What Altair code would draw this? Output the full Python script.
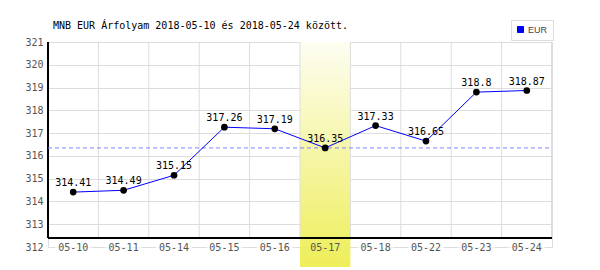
import altair as alt
import pandas as pd

# ---- data ----
dates = ["05-10", "05-11", "05-14", "05-15", "05-16", "05-17", "05-18", "05-22", "05-23", "05-24"]
values = [314.41, 314.49, 315.15, 317.26, 317.19, 316.35, 317.33, 316.65, 318.8, 318.87]
labels = ["314.41", "314.49", "315.15", "317.26", "317.19", "316.35", "317.33", "316.65", "318.8", "318.87"]
highlight = "05-17"
ref_value = 316.35
series_name = "EUR"
y_ticks = [312, 313, 314, 315, 316, 317, 318, 319, 320, 321]
title_text = "MNB EUR Árfolyam 2018-05-10 és 2018-05-24 között."

df = pd.DataFrame({"date": dates, "value": values, "label": labels, "series": [series_name] * len(dates)})
df_hl = df[df["date"] == highlight]
df_other = df[df["date"] != highlight]
df_ref = pd.DataFrame({"ref": [ref_value]})
df_title = pd.DataFrame({"t": [title_text]})

MONO = "DejaVu Sans Mono"
W, H = 504, 205
AXIS_Y = 196

xscale = alt.Scale(type="band", domain=dates, paddingInner=0, paddingOuter=0)
yscale = alt.Scale(domain=[312, 321], nice=False, zero=False)

base = alt.Chart(df)

x_axis = alt.Axis(title=None, ticks=False, domain=False, grid=False, labelPadding=0,
                  labelBaseline="middle", labelFont=MONO, labelFontSize=10,
                  labelColor="#555555", labelAngle=0, labelOverlap=False, zindex=1)
y_axis = alt.Axis(title=None, ticks=False, domain=False, grid=True, gridColor="#dddddd",
                  values=y_ticks, tickCount=10, labelFont=MONO, labelFontSize=10, labelColor="#555555",
                  labelPadding=5, labelOverlap=False, labelBound=False, zindex=0)

X = lambda **kw: alt.X("date:N", scale=xscale, sort=dates, axis=x_axis, **kw)
Y = lambda f: alt.Y(f, scale=yscale, axis=y_axis)

# white gaps behind x labels
gaps = alt.Chart(df_other).mark_tick(orient="horizontal", size=36, thickness=3, color="white").encode(
    x=X(), y=alt.value(H),
)

band = alt.Chart(df_hl).mark_rect(
    color=alt.Gradient(gradient="linear", x1=0, x2=0, y1=0, y2=1,
                       stops=[alt.GradientStop(color="#fdfdf2", offset=0),
                              alt.GradientStop(color="#eeee5a", offset=1)])
).encode(
    x=X(), y=alt.value(0), y2=alt.value(225),
)

vgrid = base.mark_rule(color="#dddddd", strokeWidth=1).encode(
    x=X(bandPosition=0), y=alt.value(0), y2=alt.value(AXIS_Y),
)
vgrid_right = base.mark_rule(color="#dddddd", strokeWidth=1).encode(
    x=alt.value(W), y=alt.value(0), y2=alt.value(AXIS_Y),
)

axis_h = base.mark_rule(color="black", strokeWidth=1).encode(
    x=alt.value(0), x2=alt.value(W), y=alt.value(AXIS_Y),
)
axis_v = base.mark_rule(color="black", strokeWidth=1).encode(
    x=alt.value(0), y=alt.value(0), y2=alt.value(AXIS_Y),
)

refline = alt.Chart(df_ref).mark_rule(color="#8080ff", strokeDash=[4, 3], strokeWidth=1).encode(
    y=Y("ref:Q"), x=alt.value(0), x2=alt.value(W),
)

line = base.mark_line(strokeWidth=1).encode(
    x=X(), y=Y("value:Q"),
    color=alt.Color("series:N", scale=alt.Scale(domain=[series_name], range=["#0000ff"]),
                    legend=alt.Legend(title=None, orient="none", legendX=463, legendY=-22,
                                      symbolType="square", symbolSize=36,
                                      symbolFillColor="#0000ff", symbolStrokeColor="#333333",
                                      symbolStrokeWidth=1, labelFont="Liberation Sans",
                                      labelFontSize=9, labelColor="#444444", labelOffset=3,
                                      fillColor="white", strokeColor="#dddddd", padding=5)),
)

points = base.mark_point(filled=True, color="black", size=45, opacity=1).encode(
    x=X(), y=Y("value:Q"),
)

texts = base.mark_text(font=MONO, fontSize=10, color="black", baseline="alphabetic", dy=-6).encode(
    x=X(), y=Y("value:Q"), text="label:N",
)

title = alt.Chart(df_title).mark_text(font=MONO, fontSize=10, color="black", align="left",
                                      baseline="alphabetic").encode(
    x=alt.value(5), y=alt.value(-13), text="t:N",
)

chart = alt.layer(
    gaps, band, vgrid, vgrid_right, axis_h, axis_v, refline, line, points, texts, title
).properties(
    width=W, height=H,
    autosize=alt.AutoSizeParams(type="none"),
    padding={"left": 48, "top": 42, "right": 48, "bottom": 23},
).configure_view(stroke=None).configure(background="white")

chart.save("out.html", embed_options={"renderer": "svg", "actions": False})
